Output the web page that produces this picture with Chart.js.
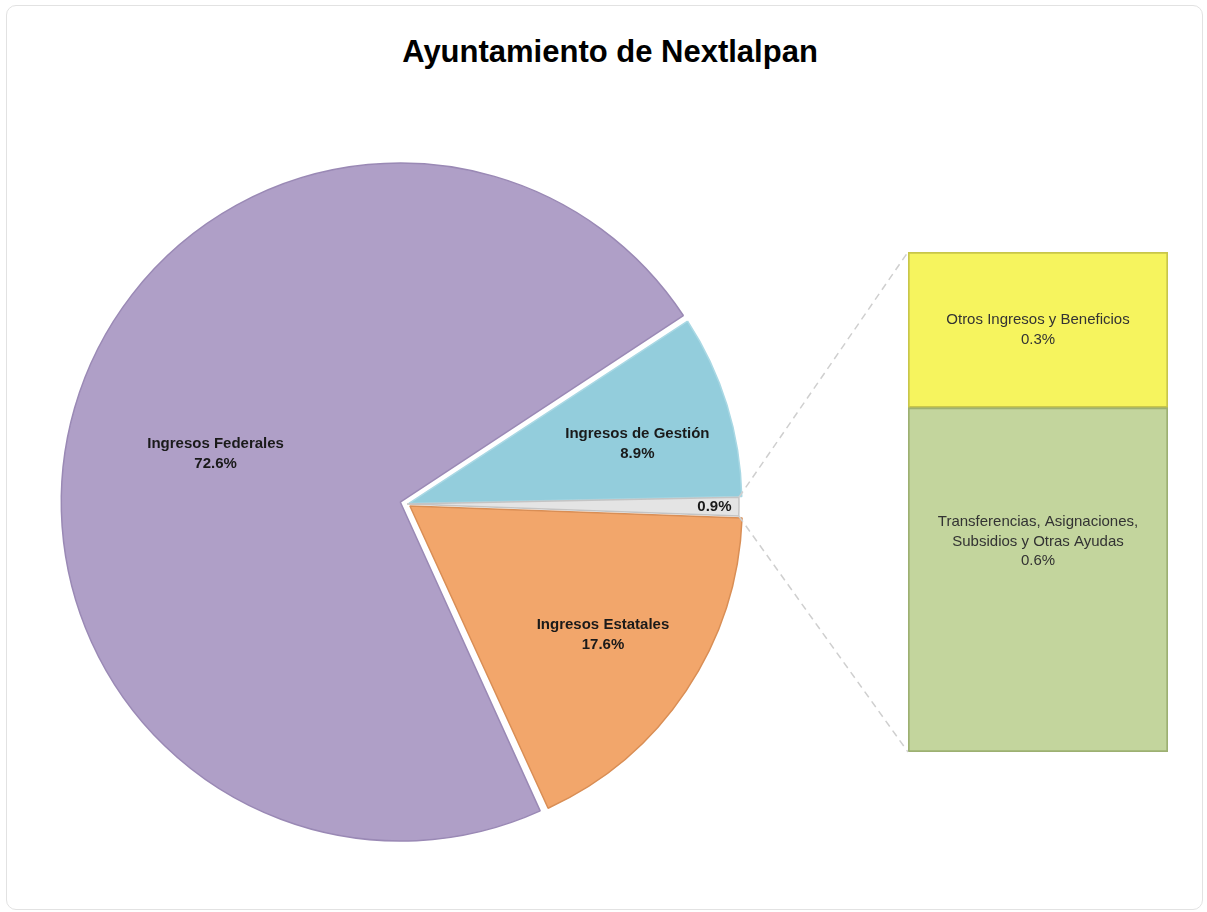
<!DOCTYPE html>
<html>
<head>
<meta charset="utf-8">
<script src="https://cdn.jsdelivr.net/npm/chart.js@4.4.1/dist/chart.umd.min.js"></script>
<style>
  body { margin: 0; background: #fff; width: 1207px; height: 912px; overflow: hidden; position: relative; }
  .card { position: absolute; left: 6px; top: 5px; width: 1197px; height: 905px; box-sizing: border-box;
          border: 1px solid #e2e2e2; border-radius: 10px; }
  .title { position: absolute; left: 13px; width: 1194px; top: 34px; text-align: center;
           font: bold 31px "Liberation Sans", Arial, sans-serif; line-height: 36px; color: #000; }
  canvas { position: absolute; left: 0; top: 0; }
  #barChart { pointer-events: none; }
</style>
</head>
<body>
<div class="card"></div>
<div class="title">Ayuntamiento de Nextlalpan</div>
<canvas id="pieChart" width="1207" height="912"></canvas>
<canvas id="barChart" width="1207" height="912"></canvas>
<script>
// pie slices, clockwise from the Gestión slice
const pieLabels = ['Ingresos de Gestión', '', 'Ingresos Estatales', 'Ingresos Federales'];
const pieValues = [8.9, 0.9, 17.6, 72.6];
const pieColors = ['#93CDDC', '#E4E4E4', '#F2A66B', '#AF9FC7'];
const pieBorders = ['#A9D8E4', '#C4C4C4', '#D98E55', '#9A89B5'];

// breakdown of the 0.9% slice (bottom to top)
const barLabels = ['Transferencias, Asignaciones,\nSubsidios y Otras Ayudas', 'Otros Ingresos y Beneficios'];
const barValues = [0.62, 0.28];
const barColors = ['#C3D59D', '#F6F45E'];
const barBorders = ['#9DB072', '#C8C64A'];

const labelFont = '"Liberation Sans", Arial, sans-serif';

const pieLabelPlugin = {
  id: 'pieLabels',
  afterDatasetsDraw(chart) {
    const c = chart.ctx;
    const dist = [0.72, 0.92, 0.71, 0.55];
    const nudge = [[2, 10], [2, 0], [0, 0], [-16, 1]];
    chart.getDatasetMeta(0).data.forEach((arc, i) => {
      const p = arc.getProps(['x', 'y', 'startAngle', 'endAngle', 'outerRadius'], true);
      const mid = (p.startAngle + p.endAngle) / 2;
      const r = p.outerRadius * dist[i];
      const x = p.x + Math.cos(mid) * r + nudge[i][0];
      const y = p.y + Math.sin(mid) * r + nudge[i][1];
      const lines = pieLabels[i] ? [pieLabels[i], pieValues[i].toFixed(1) + '%'] : [pieValues[i].toFixed(1) + '%'];
      c.save();
      c.font = 'bold 15px ' + labelFont;
      c.fillStyle = '#1a1a1a';
      c.textAlign = 'center';
      c.textBaseline = 'middle';
      lines.forEach((t, k) => c.fillText(t, x, y + (k - (lines.length - 1) / 2) * 20));
      c.restore();
    });
  }
};

const pieChart = new Chart(document.getElementById('pieChart'), {
  type: 'pie',
  data: {
    labels: pieLabels,
    datasets: [{
      data: pieValues,
      backgroundColor: pieColors,
      borderColor: pieBorders,
      borderWidth: 1.5,
      offset: [8, 0, 14, 28],
      radius: 332
    }]
  },
  options: {
    responsive: false,
    animation: false,
    events: [],
    rotation: 56.8,
    layout: { padding: { left: 0, right: 393, top: 96, bottom: 0 } },
    plugins: { legend: { display: false }, tooltip: { enabled: false } }
  },
  plugins: [pieLabelPlugin]
});

const barExtras = {
  id: 'barExtras',
  afterDatasetsDraw(chart) {
    const c = chart.ctx;
    const low = chart.getDatasetMeta(0).data[0];
    const high = chart.getDatasetMeta(1).data[0];
    const left = low.x - low.width / 2;
    const top = high.y;
    const bottom = low.base;

    // dashed connectors from the small slice to the bar
    const arc = pieChart.getDatasetMeta(0).data[1];
    const a = arc.getProps(['x', 'y', 'startAngle', 'endAngle', 'outerRadius'], true);
    c.save();
    c.strokeStyle = '#cfcfcf';
    c.lineWidth = 1.5;
    c.setLineDash([7, 5]);
    c.beginPath();
    c.moveTo(a.x + Math.cos(a.startAngle) * a.outerRadius, a.y + Math.sin(a.startAngle) * a.outerRadius);
    c.lineTo(left, top);
    c.moveTo(a.x + Math.cos(a.endAngle) * a.outerRadius, a.y + Math.sin(a.endAngle) * a.outerRadius);
    c.lineTo(left, bottom);
    c.stroke();
    c.restore();

    // labels inside the bar
    const shift = [-38, 0];
    [low, high].forEach((bar, i) => {
      const lines = barLabels[i].split('\n').concat(barValues[i].toFixed(1) + '%');
      const y = (bar.y + bar.base) / 2 + shift[i];
      c.save();
      c.font = '15px ' + labelFont;
      c.fillStyle = '#333';
      c.textAlign = 'center';
      c.textBaseline = 'middle';
      lines.forEach((t, k) => c.fillText(t, bar.x, y + (k - (lines.length - 1) / 2) * 19.5));
      c.restore();
    });
  }
};

new Chart(document.getElementById('barChart'), {
  type: 'bar',
  data: {
    labels: [''],
    datasets: barValues.map((v, i) => ({
      label: barLabels[i],
      data: [v],
      backgroundColor: barColors[i],
      borderColor: barBorders[i],
      borderWidth: 2,
      borderSkipped: false,
      barPercentage: 1,
      categoryPercentage: 1
    }))
  },
  options: {
    responsive: false,
    animation: false,
    events: [],
    layout: { padding: { left: 908, right: 39, top: 252, bottom: 160 } },
    scales: {
      x: { stacked: true, display: false },
      y: { stacked: true, display: false, min: 0, max: barValues.reduce((s, v) => s + v, 0) }
    },
    plugins: { legend: { display: false }, tooltip: { enabled: false } }
  },
  plugins: [barExtras]
});
</script>
</body>
</html>
